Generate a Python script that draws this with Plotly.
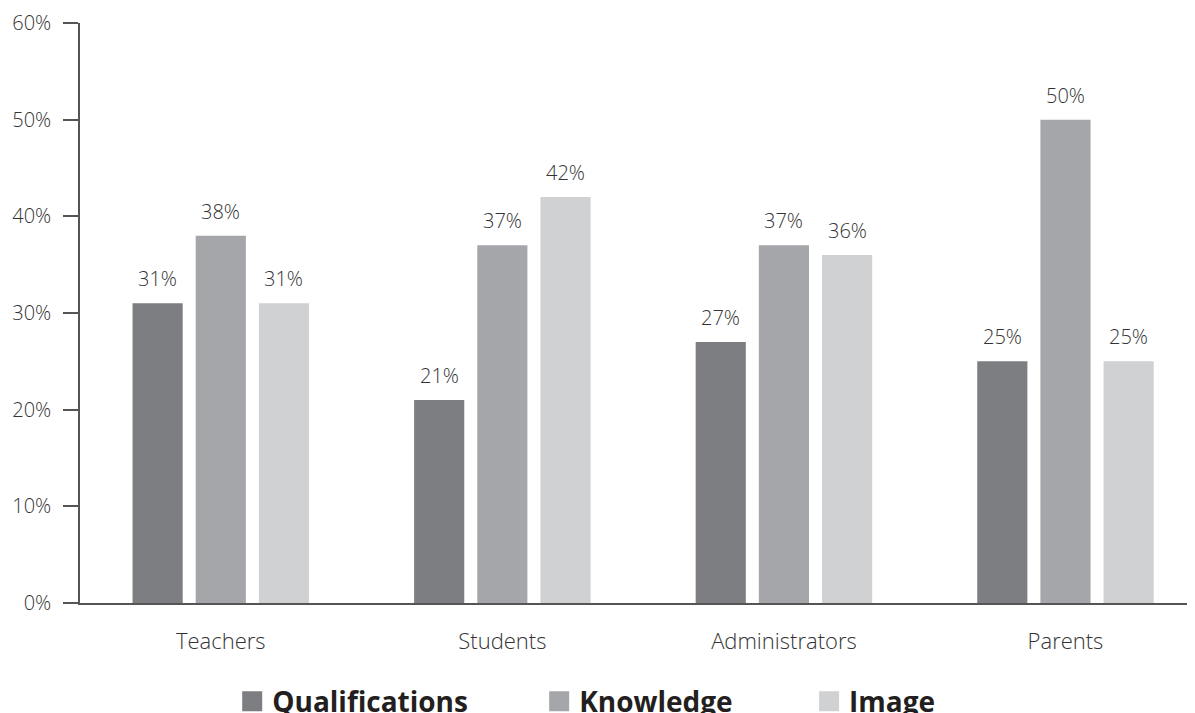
import plotly.graph_objects as go

categories = ["Teachers", "Students", "Administrators", "Parents"]
qualifications = [31, 21, 27, 25]
knowledge = [38, 37, 37, 50]
image = [31, 42, 36, 25]
series_names = ["Qualifications", "Knowledge", "Image"]
colors = ["#7d7e82", "#a5a6aa", "#d0d1d3"]
y_ticks = [0, 10, 20, 30, 40, 50, 60]
y_tick_labels = ["0%", "10%", "20%", "30%", "40%", "50%", "60%"]

BARGAP = 0.327
BARGROUPGAP = 0.206
legend_ids = ["legend", "legend2", "legend3"]
legend_x = [0.1365, 0.4118, 0.6539]

fig = go.Figure()
annotations = []
n = len(series_names)
slot = (1 - BARGAP) / n
for i, (name, vals, col) in enumerate(zip(series_names, [qualifications, knowledge, image], colors)):
    fig.add_trace(go.Bar(
        x=categories, y=vals, name=name, marker_color=col, marker_line_width=0,
        showlegend=False, hoverinfo="x+y",
    ))
    fig.add_trace(go.Scatter(
        x=[None], y=[None], mode="markers", name=name, legend=legend_ids[i],
        marker=dict(symbol="square", size=16, color=col, line=dict(width=4, color=col)),
        showlegend=True,
    ))
    offset = (i - (n - 1) / 2) * slot
    for j, v in enumerate(vals):
        annotations.append(dict(
            x=j + offset, y=v, xref="x", yref="y", text=f"{v}%", showarrow=False,
            yanchor="bottom", yshift=9,
            font=dict(family="Open Sans", size=20, color="#333333", weight=300),
        ))

legend_common = dict(
    orientation="h", xanchor="left", y=-0.17, yanchor="middle",
    font=dict(family="Open Sans", size=28, color="#231f20", weight="bold"),
    bgcolor="rgba(0,0,0,0)",
)
layout_legends = {}
for lid, lx in zip(legend_ids, legend_x):
    layout_legends[lid] = dict(legend_common, x=lx)

# page body has an 8px default margin; size the figure so the plot sits where the reference has it
fig.update_layout(
    width=1187, height=705,
    margin=dict(l=72, r=0, t=15, b=110, autoexpand=False),
    paper_bgcolor="white", plot_bgcolor="white",
    barmode="group", bargap=BARGAP, bargroupgap=BARGROUPGAP,
    font=dict(family="Open Sans", color="#333333"),
    annotations=annotations,
    **layout_legends,
)
fig.update_xaxes(
    range=[-0.5, 3.46], showline=True, linecolor="#555555", linewidth=1.5,
    ticks="", tickfont=dict(family="Open Sans", size=22, color="#333333", weight=300),
    ticklabelstandoff=18, showgrid=False, zeroline=False, automargin=False,
)
fig.update_yaxes(
    range=[0, 60], tickvals=y_ticks, ticktext=y_tick_labels,
    showline=True, linecolor="#555555", linewidth=1.5,
    ticks="outside", ticklen=15, tickcolor="#555555", tickwidth=1.5,
    tickfont=dict(family="Open Sans", size=20, color="#333333", weight=300),
    ticklabelstandoff=8, showgrid=False, zeroline=False, automargin=False,
)
fig.write_html("out.html")
